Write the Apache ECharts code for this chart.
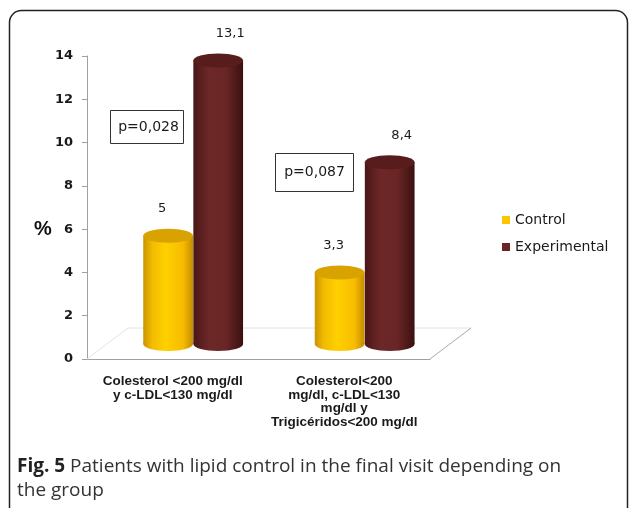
<!DOCTYPE html>
<html>
<head>
<meta charset="utf-8">
<script src="https://cdn.jsdelivr.net/npm/echarts@6/dist/echarts.min.js"></script>
<style>
  html, body { margin: 0; padding: 0; background: #fff; }
  #chart { width: 629px; height: 508px; }
</style>
</head>
<body>
<div id="chart"></div>
<script>
// data
const categories = [
  "Colesterol <200 mg/dl\ny c-LDL<130 mg/dl",
  "Colesterol<200\nmg/dl, c-LDL<130\nmg/dl y\nTrigicéridos<200 mg/dl"
];
const controlValues = [5, 3.3];
const experimentalValues = [13.1, 8.4];
const controlLabels = ["5", "3,3"];
const experimentalLabels = ["13,1", "8,4"];
const pValues = ["p=0,028", "p=0,087"];

const chart = echarts.init(document.getElementById("chart"));

const DEPTH = 15; // 3d lift of the cylinders

const yellowBody = new echarts.graphic.LinearGradient(0, 0, 1, 0, [
  { offset: 0, color: "#c99400" },
  { offset: 0.18, color: "#f2bb00" },
  { offset: 0.45, color: "#ffd000" },
  { offset: 0.8, color: "#f7bc00" },
  { offset: 1, color: "#c48c00" }
]);
const maroonBody = new echarts.graphic.LinearGradient(0, 0, 1, 0, [
  { offset: 0, color: "#4a1616" },
  { offset: 0.3, color: "#6c2727" },
  { offset: 0.65, color: "#6a2626" },
  { offset: 1, color: "#3c1010" }
]);

function cylinder(body, top, shift, labels, labelShift) {
  return function (params, api) {
    const idx = api.value(0);
    const p = api.coord([idx, api.value(1)]);
    const p0 = api.coord([idx, 0]);
    const band = api.size([1, 0])[0];
    const w = band * 0.29;
    const cx = p[0] + band * shift;
    const rx = w / 2, ry = 7;
    const yt = p[1] - DEPTH, yb = p0[1] - DEPTH;
    return {
      type: "group",
      children: [
        { type: "ellipse", shape: { cx: cx, cy: yb, rx: rx, ry: ry }, style: { fill: body } },
        { type: "rect", shape: { x: cx - rx, y: yt, width: w, height: yb - yt }, style: { fill: body } },
        { type: "ellipse", shape: { cx: cx, cy: yt, rx: rx, ry: ry }, style: { fill: top } },
        {
          type: "text",
          style: {
            text: labels[params.dataIndex],
            x: cx + labelShift, y: p[1] - 42,
            align: "center", verticalAlign: "middle",
            font: "13px 'DejaVu Sans'", fill: "#1a1a1a"
          }
        }
      ]
    };
  };
}

function floor(params, api) {
  const cs = params.coordSys;
  const x0 = cs.x, y0 = cs.y + cs.height, x1 = cs.x + cs.width;
  const dx = 41, dy = 31;
  return {
    type: "group",
    silent: true,
    children: [
      { type: "polyline", shape: { points: [[x0, y0], [x0 + dx, y0 - dy], [x1 + dx, y0 - dy]] },
        style: { stroke: "#e2e2e2", lineWidth: 1, fill: null } },
      { type: "line", shape: { x1: x1, y1: y0, x2: x1 + dx, y2: y0 - dy },
        style: { stroke: "#a8a8a8", lineWidth: 1 } }
    ]
  };
}

const option = {
  animation: false,
  textStyle: { fontFamily: "'DejaVu Sans', sans-serif" },
  grid: { left: 87, top: 56, width: 343, height: 303 },
  legend: {
    orient: "vertical",
    left: 497, top: 208,
    itemWidth: 8, itemHeight: 8, itemGap: 13,
    icon: "rect",
    textStyle: { fontSize: 14, color: "#1a1a1a", fontFamily: "'DejaVu Sans'" },
    data: ["Control", "Experimental"]
  },
  xAxis: {
    type: "category",
    data: categories,
    axisLine: { lineStyle: { color: "#a0a0a0" } },
    axisTick: { length: 5, lineStyle: { color: "#a0a0a0" } },
    axisLabel: {
      interval: 0, margin: 16, fontSize: 13.5, fontWeight: "bold",
      color: "#1a1a1a", lineHeight: 13.5, fontFamily: "'Liberation Sans'"
    }
  },
  yAxis: {
    type: "value",
    min: 0, max: 14, interval: 2,
    splitLine: { show: false },
    axisLine: { show: true, lineStyle: { color: "#a0a0a0" } },
    axisTick: { show: true, length: 5, lineStyle: { color: "#a0a0a0" } },
    axisLabel: { fontSize: 13, fontWeight: "bold", color: "#1a1a1a", margin: 14, fontFamily: "'DejaVu Sans'" }
  },
  series: [
    {
      type: "custom", name: "floor", silent: true, z: 1,
      renderItem: floor, data: [[0, 0]]
    },
    {
      type: "custom", name: "Control", z: 3,
      itemStyle: { color: "#ffc400" },
      renderItem: cylinder(yellowBody, "#d8a200", -0.027, controlLabels, -6),
      data: controlValues.map((v, i) => [i, v])
    },
    {
      type: "custom", name: "Experimental", z: 4,
      itemStyle: { color: "#6a2424" },
      renderItem: cylinder(maroonBody, "#581c1c", 0.265, experimentalLabels, 12),
      data: experimentalValues.map((v, i) => [i, v])
    }
  ],
  graphic: [
    {
      type: "rect", silent: true, z: 0,
      shape: { x: 9.5, y: 10.5, width: 618, height: 530, r: 12 },
      style: { fill: null, stroke: "#222", lineWidth: 1.5 }
    },
    {
      type: "text", left: 34, top: 219,
      style: { text: "%", font: "bold 20px 'Liberation Sans'", fill: "#111" }
    },
    {
      type: "group", left: 110, top: 110,
      children: [
        { type: "rect", shape: { x: 0, y: 0, width: 73, height: 33 }, style: { fill: "#fff", stroke: "#333", lineWidth: 1 } },
        { type: "text", style: { text: pValues[0], x: 38, y: 17, align: "center", verticalAlign: "middle", font: "14px 'DejaVu Sans'", fill: "#1a1a1a" } }
      ]
    },
    {
      type: "group", left: 275, top: 153,
      children: [
        { type: "rect", shape: { x: 0, y: 0, width: 78, height: 38 }, style: { fill: "#fff", stroke: "#333", lineWidth: 1 } },
        { type: "text", style: { text: pValues[1], x: 39, y: 19, align: "center", verticalAlign: "middle", font: "14px 'DejaVu Sans'", fill: "#1a1a1a" } }
      ]
    },
    {
      type: "text", left: 17, top: 455,
      style: {
        text: "{b|Fig. 5} Patients with lipid control in the final visit depending on\nthe group",
        font: "19px 'Open Sans'", fill: "#333", lineHeight: 24,
        rich: { b: { font: "bold 19px 'Open Sans'", fill: "#222" } }
      }
    }
  ]
};

chart.setOption(option);
</script>
</body>
</html>
